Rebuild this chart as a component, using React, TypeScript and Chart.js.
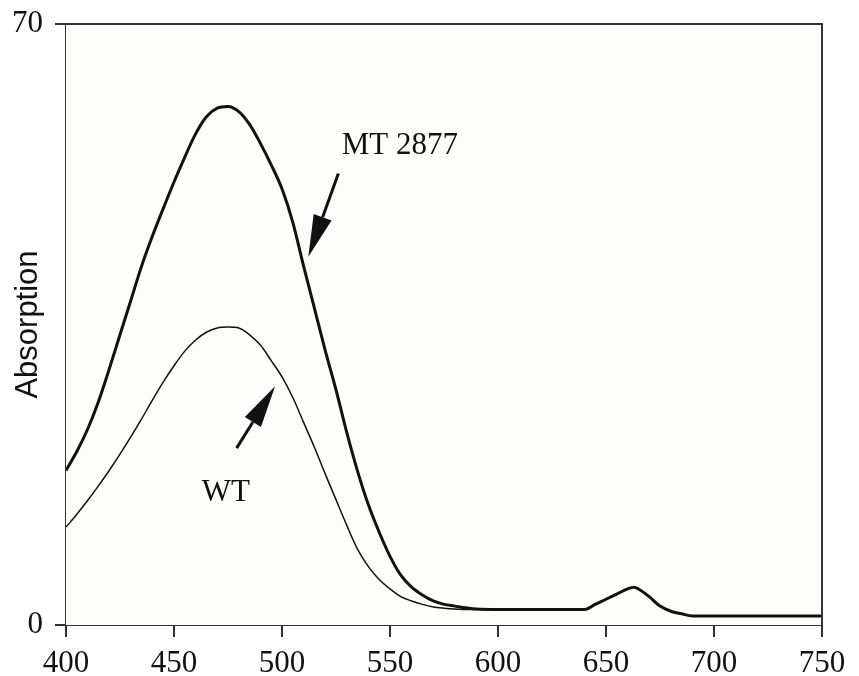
import React, { useEffect, useRef } from "react";
import { Chart, registerables } from "chart.js";

Chart.register(...registerables);

// Wavelength grid (nm)
const wavelengths = [
  400, 405, 410, 415, 420, 425, 430, 435, 440, 445, 450, 455, 460, 465, 470, 475,
  480, 485, 490, 495, 500, 505, 510, 515, 520, 525, 530, 535, 540, 545, 550, 555,
  560, 565, 570, 575, 580, 585, 590, 600, 610, 620, 630, 640, 645, 650, 655, 660,
  663, 665, 670, 675, 680, 685, 690, 700, 720, 750,
];

// MT 2877 absorption
const mtValues = [
  18.0, 20.2, 22.8, 26.0, 29.8, 33.8, 37.8, 41.8, 45.3, 48.5, 51.6, 54.5, 57.2, 59.2, 60.2, 60.4,
  59.8, 58.3, 56.1, 53.6, 50.8, 46.9, 41.8, 36.9, 32.0, 27.4, 22.4, 17.9, 14.0, 10.8, 8.0, 5.8,
  4.4, 3.5, 2.8, 2.4, 2.2, 2.0, 1.85, 1.8, 1.8, 1.8, 1.8, 1.8, 2.4, 3.0, 3.6, 4.2,
  4.4, 4.2, 3.3, 2.2, 1.6, 1.3, 1.05, 1.05, 1.05, 1.05,
];

// WT absorption
const wtValues = [
  11.4, 12.9, 14.5, 16.2, 18.0, 19.9, 21.9, 24.0, 26.2, 28.3, 30.2, 31.9, 33.2, 34.1, 34.6, 34.7,
  34.6, 33.8, 32.6, 30.8, 28.9, 26.5, 23.6, 20.7, 17.6, 14.6, 11.6, 8.8, 6.8, 5.3, 4.2, 3.3,
  2.8, 2.4, 2.1, 1.95, 1.85, 1.8, 1.8, 1.8, 1.8, 1.8, 1.8, 1.8, 2.4, 3.0, 3.6, 4.2,
  4.4, 4.2, 3.3, 2.2, 1.6, 1.3, 1.05, 1.05, 1.05, 1.05,
];

const yTickValues = [0, 70];

// Annotation labels and arrows (data coordinates: [nm, absorption])
const annotationLabels = ["MT 2877", "WT"];
const annotationLabelAt = [
  [554.6, 54.9],
  [474.0, 14.4],
];
const annotationArrowFrom = [
  [526.1, 52.6],
  [479.0, 20.6],
];
const annotationArrowTo = [
  [512.2, 42.9],
  [496.8, 27.8],
];

const SERIF = "'Liberation Serif', 'Times New Roman', serif";
const SANS = "'Liberation Sans', Arial, sans-serif";
const AXIS_COLOR = "#333";
const LINE_COLOR = "#111";

const frameAndAnnotations = {
  id: "frameAndAnnotations",
  beforeDatasetsDraw(chart: any) {
    const { ctx, chartArea } = chart;
    ctx.save();
    ctx.fillStyle = "#fdfdfb";
    ctx.fillRect(chartArea.left, chartArea.top, chartArea.right - chartArea.left, chartArea.bottom - chartArea.top);
    ctx.restore();
  },
  afterDraw(chart: any) {
    const { ctx, chartArea } = chart;
    const xs = chart.scales.x;
    const ys = chart.scales.y;
    ctx.save();
    // top and right frame lines
    ctx.strokeStyle = AXIS_COLOR;
    ctx.lineWidth = 2;
    ctx.beginPath();
    ctx.moveTo(chartArea.left, chartArea.top);
    ctx.lineTo(chartArea.right, chartArea.top);
    ctx.lineTo(chartArea.right, chartArea.bottom);
    ctx.stroke();

    // annotations
    ctx.fillStyle = LINE_COLOR;
    ctx.strokeStyle = LINE_COLOR;
    ctx.font = `31px ${SERIF}`;
    ctx.textAlign = "center";
    ctx.textBaseline = "alphabetic";
    annotationLabels.forEach((label, i) => {
      const [lx, ly] = annotationLabelAt[i];
      ctx.fillText(label, xs.getPixelForValue(lx), ys.getPixelForValue(ly));

      const x1 = xs.getPixelForValue(annotationArrowFrom[i][0]);
      const y1 = ys.getPixelForValue(annotationArrowFrom[i][1]);
      const x2 = xs.getPixelForValue(annotationArrowTo[i][0]);
      const y2 = ys.getPixelForValue(annotationArrowTo[i][1]);
      const ang = Math.atan2(y2 - y1, x2 - x1);
      const headLen = 42;
      const headHalf = 9.5;
      const bx = x2 - headLen * Math.cos(ang);
      const by = y2 - headLen * Math.sin(ang);
      ctx.lineWidth = 3;
      ctx.beginPath();
      ctx.moveTo(x1, y1);
      ctx.lineTo(bx, by);
      ctx.stroke();
      ctx.beginPath();
      ctx.moveTo(x2, y2);
      ctx.lineTo(bx + headHalf * Math.sin(ang), by - headHalf * Math.cos(ang));
      ctx.lineTo(bx - headHalf * Math.sin(ang), by + headHalf * Math.cos(ang));
      ctx.closePath();
      ctx.fill();
    });
    ctx.restore();
  },
};

export default function App() {
  const canvasRef = useRef<HTMLCanvasElement | null>(null);

  useEffect(() => {
    if (!canvasRef.current) return;
    const chart = new Chart(canvasRef.current, {
      type: "line",
      data: {
        datasets: [
          {
            label: "WT",
            data: wavelengths.map((w, i) => ({ x: w, y: wtValues[i] })),
            borderColor: LINE_COLOR,
            borderWidth: 1.5,
            pointRadius: 0,
            fill: false,
            cubicInterpolationMode: "monotone",
          },
          {
            label: "MT 2877",
            data: wavelengths.map((w, i) => ({ x: w, y: mtValues[i] })),
            borderColor: LINE_COLOR,
            borderWidth: 3,
            pointRadius: 0,
            fill: false,
            cubicInterpolationMode: "monotone",
          },
        ],
      },
      options: {
        responsive: false,
        animation: false,
        devicePixelRatio: 1,
        layout: { padding: { top: 16, right: 29, left: 0, bottom: 0 } },
        plugins: {
          legend: { display: false },
          tooltip: { enabled: false },
          title: { display: false },
        },
        scales: {
          x: {
            type: "linear",
            min: 400,
            max: 750,
            ticks: {
              stepSize: 50,
              color: "#111",
              padding: 8,
              maxRotation: 0,
              font: { family: SERIF, size: 31, lineHeight: 1.2 },
            },
            grid: {
              drawOnChartArea: false,
              drawTicks: true,
              tickLength: 12,
              color: AXIS_COLOR,
              lineWidth: 2,
            },
            border: { display: true, color: AXIS_COLOR, width: 2 },
            afterFit: (scale: any) => {
              scale.height = 51;
              scale.paddingLeft = 0;
              scale.paddingRight = 0;
            },
          },
          y: {
            type: "linear",
            min: 0,
            max: 70,
            afterBuildTicks: (scale: any) => {
              scale.ticks = yTickValues.map((v) => ({ value: v }));
            },
            ticks: {
              color: "#111",
              padding: 12,
              font: { family: SERIF, size: 31, lineHeight: 1 },
            },
            grid: {
              drawOnChartArea: false,
              drawTicks: true,
              tickLength: 11,
              color: AXIS_COLOR,
              lineWidth: 2,
            },
            border: { display: true, color: AXIS_COLOR, width: 2 },
            title: {
              display: true,
              text: "Absorption",
              color: "#111",
              font: { family: SANS, size: 31, lineHeight: 1 },
              padding: { top: 5, bottom: 0 },
            },
            afterFit: (scale: any) => {
              scale.width = 58;
              scale.paddingTop = 0;
              scale.paddingBottom = 0;
            },
          },
        },
      },
      plugins: [frameAndAnnotations],
    } as any);
    return () => chart.destroy();
  }, []);

  return (
    <div style={{ width: 843, height: 668 }}>
      <canvas ref={canvasRef} width={843} height={668} style={{ display: "block" }} />
    </div>
  );
}
